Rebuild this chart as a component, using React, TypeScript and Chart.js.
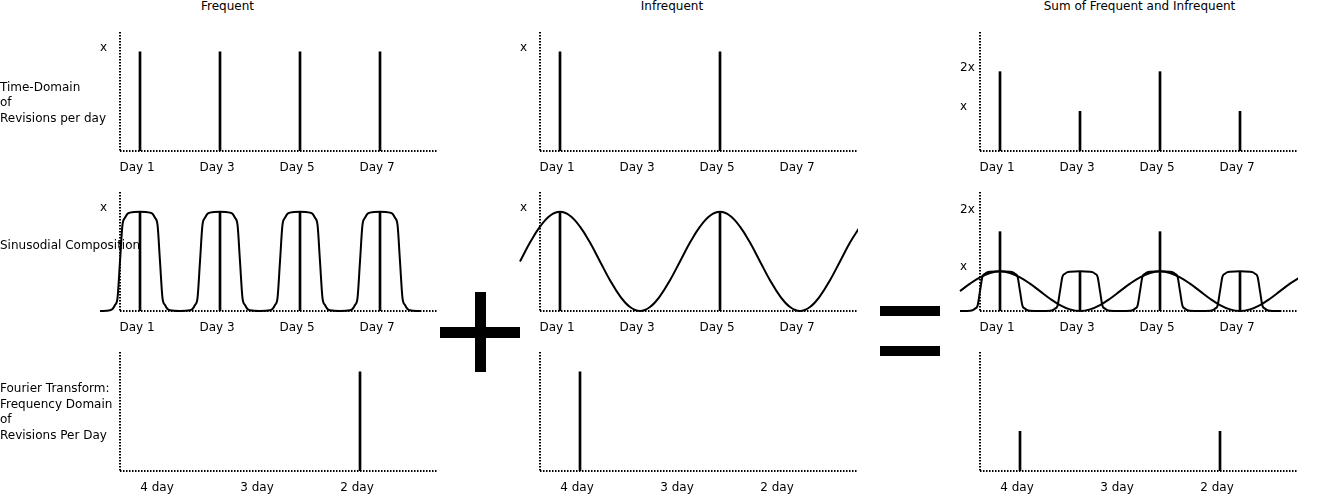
import React, { useEffect, useRef } from 'react';
import { Chart, registerables } from 'chart.js';

Chart.register(...registerables);

const FONT = '"DejaVu Sans", "Liberation Sans", sans-serif';

// ---------- Data ----------
const columnTitles = ['Frequent', 'Infrequent', 'Sum of Frequent and Infrequent'];

const dayTickValues = [1, 3, 5, 7];
const dayTickLabels = ['Day 1', 'Day 3', 'Day 5', 'Day 7'];

const frequentSpikeDays = [1, 3, 5, 7];
const frequentSpikeValues = [1, 1, 1, 1];
const infrequentSpikeDays = [1, 5];
const infrequentSpikeValues = [1, 1];
const sumSpikeDays = [1, 3, 5, 7];
const sumSpikeValues = [2, 1, 2, 1];

const singleTickValues = [1];
const singleTickLabels = ['x'];
const sumTimeTickValues = [1, 2];
const sumTimeTickLabels = ['x', '2x'];
const sumCompTickValues = [1, 2.45];
const sumCompTickLabels = ['x', '2x'];

// "Frequent" rounded square-like wave
const frequentWaveDays = [
  0, 0.25, 0.3125, 0.375, 0.4375, 0.5, 0.5625, 0.625, 0.6875, 0.75,
  1, 1.25, 1.3125, 1.375, 1.4375, 1.5, 1.5625, 1.625, 1.6875, 1.75,
  2, 2.25, 2.3125, 2.375, 2.4375, 2.5, 2.5625, 2.625, 2.6875, 2.75,
  3, 3.25, 3.3125, 3.375, 3.4375, 3.5, 3.5625, 3.625, 3.6875, 3.75,
  4, 4.25, 4.3125, 4.375, 4.4375, 4.5, 4.5625, 4.625, 4.6875, 4.75,
  5, 5.25, 5.3125, 5.375, 5.4375, 5.5, 5.5625, 5.625, 5.6875, 5.75,
  6, 6.25, 6.3125, 6.375, 6.4375, 6.5, 6.5625, 6.625, 6.6875, 6.75,
  7, 7.25, 7.3125, 7.375, 7.4375, 7.5, 7.5625, 7.625, 7.6875, 7.75,
  8,
];
const frequentWaveValues = [
  0, 0.008, 0.02, 0.06, 0.13, 0.5, 0.87, 0.94, 0.98, 0.992,
  1, 0.992, 0.98, 0.94, 0.87, 0.5, 0.13, 0.06, 0.02, 0.008,
  0, 0.008, 0.02, 0.06, 0.13, 0.5, 0.87, 0.94, 0.98, 0.992,
  1, 0.992, 0.98, 0.94, 0.87, 0.5, 0.13, 0.06, 0.02, 0.008,
  0, 0.008, 0.02, 0.06, 0.13, 0.5, 0.87, 0.94, 0.98, 0.992,
  1, 0.992, 0.98, 0.94, 0.87, 0.5, 0.13, 0.06, 0.02, 0.008,
  0, 0.008, 0.02, 0.06, 0.13, 0.5, 0.87, 0.94, 0.98, 0.992,
  1, 0.992, 0.98, 0.94, 0.87, 0.5, 0.13, 0.06, 0.02, 0.008,
  0,
];

// "Infrequent" smooth wave
const infrequentWaveDays = [
  0, 0.25, 0.5, 0.75, 1, 1.25, 1.5, 1.75, 2, 2.25, 2.5, 2.75,
  3, 3.25, 3.5, 3.75, 4, 4.25, 4.5, 4.75, 5, 5.25, 5.5, 5.75,
  6, 6.25, 6.5, 6.75, 7, 7.25, 7.5, 7.75, 8, 8.25, 8.5,
];
const infrequentWaveValues = [
  0.5, 0.69, 0.85, 0.96, 1, 0.96, 0.85, 0.69, 0.5, 0.31, 0.15, 0.04,
  0, 0.04, 0.15, 0.31, 0.5, 0.69, 0.85, 0.96, 1, 0.96, 0.85, 0.69,
  0.5, 0.31, 0.15, 0.04, 0, 0.04, 0.15, 0.31, 0.5, 0.69, 0.85,
];

const periodTickValues = [1, 2, 3];
const periodTickLabels = ['4 day', '3 day', '2 day'];
const frequentSpectrum = [0, 0, 1];
const infrequentSpectrum = [1, 0, 0];
const sumSpectrum = [1, 0, 1];

// ---------- Layout ----------
const COL_AXIS_LEFT = [120, 540, 980];
const ROW_AXIS_TOP = [32, 192, 352];
const AREA_W = 318;
const AREA_H = 119;
const PAD_LEFT = 10;
const Y_AXIS_W = 20;
const PAD_TOP = 12;
const PAD_RIGHT = 8;
const X_AXIS_H = 30;

const dottedAxes = {
  id: 'dottedAxes',
  beforeDatasetsDraw(chart: any) {
    const { ctx, chartArea: a } = chart;
    ctx.save();
    ctx.strokeStyle = '#000';
    ctx.lineWidth = 2;
    ctx.setLineDash([1.5, 1.5]);
    ctx.beginPath();
    ctx.moveTo(a.left, a.top);
    ctx.lineTo(a.left, a.bottom);
    ctx.stroke();
    ctx.beginPath();
    ctx.moveTo(a.left, a.bottom);
    ctx.lineTo(a.right, a.bottom);
    ctx.stroke();
    ctx.restore();
  },
};

function toPoints(xs: number[], ys: number[]) {
  return xs.map((x, i) => ({ x, y: ys[i] }));
}

function spikes(xs: number[], ys: number[]) {
  return {
    type: 'bar',
    data: toPoints(xs, ys),
    backgroundColor: '#000',
    borderWidth: 0,
    barThickness: 2,
    grouped: false,
  };
}

function wave(xs: number[], ys: number[], monotone: boolean) {
  return {
    type: 'line',
    data: toPoints(xs, ys),
    borderColor: '#000',
    borderWidth: 2,
    pointRadius: 0,
    fill: false,
    tension: 0.4,
    cubicInterpolationMode: monotone ? 'monotone' : 'default',
    clip: { left: 25, top: 10, right: 0, bottom: 5 },
  };
}

type Panel = {
  col: number;
  row: number;
  xMin: number;
  xMax: number;
  xTicks: number[];
  xLabels: string[];
  yMax: number;
  yTicks: number[];
  yLabels: string[];
  datasets: any[];
};

const DAY_MIN = 0.5;
const DAY_MAX = 8.45;
const PER_MIN = 0.6;
const PER_MAX = 3.78;

const panels: Panel[] = [
  { col: 0, row: 0, xMin: DAY_MIN, xMax: DAY_MAX, xTicks: dayTickValues, xLabels: dayTickLabels, yMax: 1.2, yTicks: singleTickValues, yLabels: singleTickLabels,
    datasets: [spikes(frequentSpikeDays, frequentSpikeValues)] },
  { col: 1, row: 0, xMin: DAY_MIN, xMax: DAY_MAX, xTicks: dayTickValues, xLabels: dayTickLabels, yMax: 1.2, yTicks: singleTickValues, yLabels: singleTickLabels,
    datasets: [spikes(infrequentSpikeDays, infrequentSpikeValues)] },
  { col: 2, row: 0, xMin: DAY_MIN, xMax: DAY_MAX, xTicks: dayTickValues, xLabels: dayTickLabels, yMax: 3, yTicks: sumTimeTickValues, yLabels: sumTimeTickLabels,
    datasets: [spikes(sumSpikeDays, sumSpikeValues)] },
  { col: 0, row: 1, xMin: DAY_MIN, xMax: DAY_MAX, xTicks: dayTickValues, xLabels: dayTickLabels, yMax: 1.2, yTicks: singleTickValues, yLabels: singleTickLabels,
    datasets: [spikes(frequentSpikeDays, frequentSpikeValues), wave(frequentWaveDays, frequentWaveValues, true)] },
  { col: 1, row: 1, xMin: DAY_MIN, xMax: DAY_MAX, xTicks: dayTickValues, xLabels: dayTickLabels, yMax: 1.2, yTicks: singleTickValues, yLabels: singleTickLabels,
    datasets: [spikes(infrequentSpikeDays, infrequentSpikeValues), wave(infrequentWaveDays, infrequentWaveValues, false)] },
  { col: 2, row: 1, xMin: DAY_MIN, xMax: DAY_MAX, xTicks: dayTickValues, xLabels: dayTickLabels, yMax: 3, yTicks: sumCompTickValues, yLabels: sumCompTickLabels,
    datasets: [spikes(sumSpikeDays, sumSpikeValues), wave(frequentWaveDays, frequentWaveValues, true), wave(infrequentWaveDays, infrequentWaveValues, false)] },
  { col: 0, row: 2, xMin: PER_MIN, xMax: PER_MAX, xTicks: periodTickValues, xLabels: periodTickLabels, yMax: 1.2, yTicks: [], yLabels: [],
    datasets: [spikes(periodTickValues, frequentSpectrum)] },
  { col: 1, row: 2, xMin: PER_MIN, xMax: PER_MAX, xTicks: periodTickValues, xLabels: periodTickLabels, yMax: 1.2, yTicks: [], yLabels: [],
    datasets: [spikes(periodTickValues, infrequentSpectrum)] },
  { col: 2, row: 2, xMin: PER_MIN, xMax: PER_MAX, xTicks: periodTickValues, xLabels: periodTickLabels, yMax: 3, yTicks: [], yLabels: [],
    datasets: [spikes(periodTickValues, sumSpectrum)] },
];

function buildConfig(p: Panel): any {
  const hasY = p.yTicks.length > 0;
  return {
    type: 'bar',
    data: { datasets: p.datasets },
    plugins: [dottedAxes],
    options: {
      animation: false,
      responsive: false,
      events: [],
      layout: { padding: { left: PAD_LEFT, top: PAD_TOP, right: PAD_RIGHT, bottom: 0 } },
      plugins: { legend: { display: false }, tooltip: { enabled: false }, title: { display: false } },
      scales: {
        x: {
          type: 'linear',
          bounds: 'data',
          offset: false,
          afterDataLimits: (s: any) => { s.min = p.xMin; s.max = p.xMax; },
          afterBuildTicks: (s: any) => { s.ticks = p.xTicks.map((v) => ({ value: v })); },
          afterFit: (s: any) => { s.height = X_AXIS_H; },
          grid: { display: false, drawTicks: false },
          border: { display: false },
          ticks: {
            callback: (_v: any, i: number) => p.xLabels[i],
            color: '#000',
            font: { family: FONT, size: 12 },
            padding: 10,
            labelOffset: -3,
            maxRotation: 0,
            minRotation: 0,
            autoSkip: false,
          },
        },
        y: {
          type: 'linear',
          min: 0,
          max: p.yMax,
          afterBuildTicks: hasY ? (s: any) => { s.ticks = p.yTicks.map((v) => ({ value: v })); } : undefined,
          afterFit: (s: any) => { s.width = Y_AXIS_W; },
          grid: { display: false, drawTicks: false },
          border: { display: false },
          ticks: {
            display: hasY,
            callback: (_v: any, i: number) => p.yLabels[i],
            color: '#000',
            font: { family: FONT, size: 12 },
            crossAlign: 'far',
            padding: 0,
            labelOffset: -4,
            autoSkip: false,
          },
        },
      },
    },
  };
}

function PanelChart({ p }: { p: Panel }) {
  const ref = useRef<HTMLCanvasElement | null>(null);
  useEffect(() => {
    if (!ref.current) return;
    const chart = new Chart(ref.current, buildConfig(p));
    return () => chart.destroy();
  }, [p]);
  const w = PAD_LEFT + Y_AXIS_W + AREA_W + PAD_RIGHT;
  const h = PAD_TOP + AREA_H + X_AXIS_H;
  const left = COL_AXIS_LEFT[p.col] - PAD_LEFT - Y_AXIS_W;
  const top = ROW_AXIS_TOP[p.row] - PAD_TOP;
  return (
    <canvas
      ref={ref}
      width={w}
      height={h}
      style={{ position: 'absolute', left, top, width: w, height: h }}
    />
  );
}

const titleCenters = [227.5, 672, 1139.5];

const rowLabelStyle: React.CSSProperties = {
  position: 'absolute',
  left: 0,
  whiteSpace: 'pre',
  lineHeight: '15.5px',
  zIndex: 2,
};

export default function App() {
  return (
    <div
      style={{
        position: 'fixed',
        left: 0,
        top: 0,
        width: 1341,
        height: 500,
        background: '#fff',
        fontFamily: FONT,
        fontSize: 12,
        color: '#000',
        overflow: 'hidden',
      }}
    >
      {panels.map((p, i) => (
        <PanelChart key={i} p={p} />
      ))}

      {columnTitles.map((t, i) => (
        <div
          key={t}
          style={{
            position: 'absolute',
            left: titleCenters[i] - 200,
            width: 400,
            top: -1,
            textAlign: 'center',
            lineHeight: '15.5px',
            whiteSpace: 'nowrap',
          }}
        >
          {t}
        </div>
      ))}

      <div style={{ ...rowLabelStyle, top: 79.5 }}>{'Time-Domain\nof\nRevisions per day'}</div>
      <div style={{ ...rowLabelStyle, top: 238 }}>{'Sinusodial Composition'}</div>
      <div style={{ ...rowLabelStyle, top: 381 }}>{'Fourier Transform:\nFrequency Domain\nof\nRevisions Per Day'}</div>

      {/* plus sign */}
      <div style={{ position: 'absolute', left: 440, top: 327, width: 80, height: 11, background: '#000' }} />
      <div style={{ position: 'absolute', left: 475, top: 292, width: 11, height: 80, background: '#000' }} />
      {/* equals sign */}
      <div style={{ position: 'absolute', left: 880, top: 306, width: 60, height: 10, background: '#000' }} />
      <div style={{ position: 'absolute', left: 880, top: 346, width: 60, height: 10, background: '#000' }} />
    </div>
  );
}
